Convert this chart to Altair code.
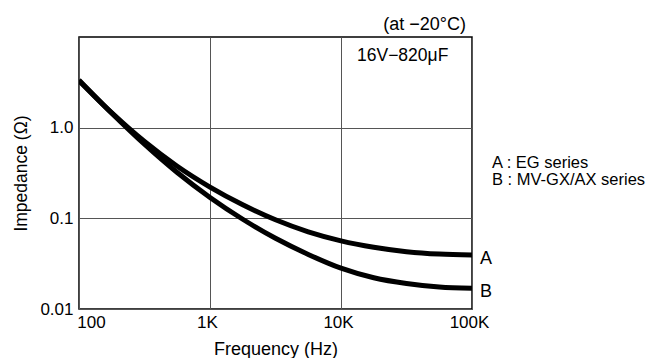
import altair as alt
import pandas as pd

# Frequency (Hz) and impedance (ohm)
freq = [100, 178, 316, 562, 1000, 1778, 3162, 5623, 10000, 17783, 31623, 56234, 100000]
imp_a = [3.30, 1.455, 0.703, 0.375, 0.221, 0.141, 0.0964, 0.0710, 0.0565, 0.0480, 0.0429, 0.0403, 0.0393]
imp_b = [3.35, 1.445, 0.657, 0.320, 0.170, 0.0977, 0.0603, 0.0400, 0.0282, 0.0221, 0.0191, 0.0175, 0.0169]
series_names = ["A", "B"]

x_ticks = [100, 1000, 10000, 100000]
x_tick_labels = ["100", "1K", "10K", "100K"]
y_ticks = [0.01, 0.1, 1.0]
y_tick_labels = ["0.01", "0.1", "1.0"]

legend_lines = ["A : EG series", "B : MV-GX/AX series"]
condition_text = "(at \u221220\u00b0C)"
part_text = "16V\u2212820\u03bcF"

n = len(freq)
df = pd.DataFrame({
    "freq": freq * 2,
    "imp": imp_a + imp_b,
    "series": [series_names[0]] * n + [series_names[1]] * n,
})
df_end = pd.DataFrame({
    "freq": [freq[-1], freq[-1]],
    "imp": [imp_a[-1], imp_b[-1]],
    "series": series_names,
})


def label_expr(values, labels):
    expr = "''"
    for v, l in zip(reversed(values), reversed(labels)):
        expr = f"abs(datum.value - {v}) < {v} * 1e-6 ? '{l}' : ({expr})"
    return expr


FONT = "Liberation Sans"
xscale = alt.Scale(type="log", domain=[100, 100000], nice=False)
yscale = alt.Scale(type="log", domain=[0.01, 10], nice=False)

x_axis = alt.Axis(
    values=x_ticks, labelExpr=label_expr(x_ticks, x_tick_labels),
    title="Frequency (Hz)", grid=True, ticks=False, domain=False,
    labelFontSize=17, titleFontSize=18, labelPadding=5, titlePadding=10,
    labelColor="black", titleColor="black", titleFontWeight="normal",
    labelFlush=False,
    labelOffset={"condition": {"test": "datum.value == 100", "value": 12}, "value": -3},
)
y_axis = alt.Axis(
    values=y_ticks, labelExpr=label_expr(y_ticks, y_tick_labels),
    title="Impedance (\u03a9)", grid=True, ticks=False, domain=False,
    labelFontSize=17, titleFontSize=17.5, labelPadding=6, titlePadding=9,
    labelColor="black", titleColor="black", titleFontWeight="normal",
    labelFlush=False,
)

lines = alt.Chart(df).mark_line(
    color="black", strokeWidth=5, interpolate="monotone", clip=True, strokeCap="butt"
).encode(
    x=alt.X("freq:Q", scale=xscale, axis=x_axis),
    y=alt.Y("imp:Q", scale=yscale, axis=y_axis),
    detail="series:N",
)

end_labels = alt.Chart(df_end).mark_text(
    align="left", baseline="middle", dx=8, dy=4, fontSize=18, font=FONT, color="black"
).encode(
    x=alt.X("freq:Q", scale=xscale),
    y=alt.Y("imp:Q", scale=yscale),
    text="series:N",
)

cond = alt.Chart(pd.DataFrame({"t": [condition_text]})).mark_text(
    align="right", baseline="middle", fontSize=18, font=FONT, color="black"
).encode(x=alt.value(387), y=alt.value(-12), text="t:N")

part = alt.Chart(pd.DataFrame({"t": [part_text]})).mark_text(
    align="left", baseline="middle", fontSize=17.5, font=FONT, color="black"
).encode(x=alt.value(278), y=alt.value(19), text="t:N")

leg_a = alt.Chart(pd.DataFrame({"t": [legend_lines[0]]})).mark_text(
    align="left", baseline="middle", fontSize=16.5, font=FONT, color="black"
).encode(x=alt.value(413), y=alt.value(126), text="t:N")

leg_b = alt.Chart(pd.DataFrame({"t": [legend_lines[1]]})).mark_text(
    align="left", baseline="middle", fontSize=16.5, font=FONT, color="black"
).encode(x=alt.value(413), y=alt.value(143), text="t:N")

chart = alt.layer(lines, end_labels, cond, part, leg_a, leg_b).properties(
    width=393, height=272,
    autosize=alt.AutoSizeParams(type="none"),
    padding={"left": 71, "top": 29, "right": 188, "bottom": 60},
).configure(
    font=FONT,
).configure_view(
    stroke="black", strokeWidth=1.5,
).configure_axis(
    gridColor="#555", gridWidth=1, gridOpacity=1,
    labelFont=FONT, titleFont=FONT,
)

chart.save("out.html", embed_options={"renderer": "svg", "actions": False})
